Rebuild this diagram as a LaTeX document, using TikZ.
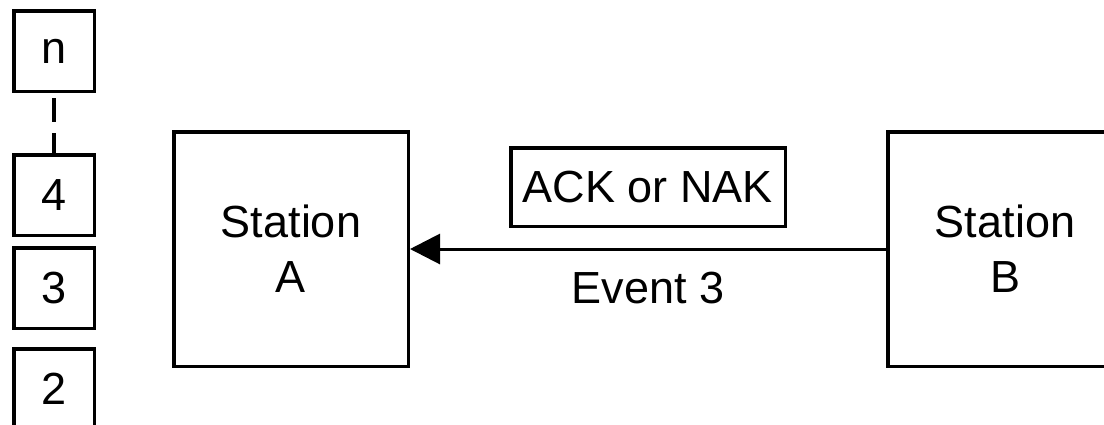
\documentclass[tikz,border=0pt]{standalone}
\usepackage{fontspec}
\setmainfont{Liberation Sans}
\usetikzlibrary{arrows.meta,positioning}
\tikzstyle{frame}=[
	rectangle,
	draw,
	line width=3.5pt,
	font=\fontsize{45}{55}\selectfont
]
\tikzstyle{station}=[
	frame,
	minimum width=234.5pt,
	minimum height=234.5pt,
	align=center
]
\tikzstyle{slot}=[
	frame,
	minimum width=80.5pt,
	minimum height=80.5pt,
	inner sep=0pt,
	node distance=60pt
]
\tikzstyle{gap}=[
	line width=3.5pt,
	dash pattern=on 24pt off 11pt,
	dash phase=30pt
]
\tikzstyle{message}=[
	-{Triangle[length=30pt,width=30pt]},
	line width=3pt
]

\begin{document}
\begin{tikzpicture}[x=1pt,y=-1pt]
\useasboundingbox (0,0) rectangle (1104,424);
\node [slot] (Slotn) at (54,51) {n};
\node [slot] (Slot4)[below=of Slotn] {4};
\node [slot] (Slot3)[below=9pt of Slot4] {3};
\node [slot] (Slot2)[below=17pt of Slot3] {2};
\draw [gap] (Slotn) -- (Slot4);
\node [station] (StationA) at (291,249) {Station\\A};
\node [station] (StationB)[right=476pt of StationA] {Station\\B};
\draw [message] (StationB) -- (StationA)
	node [frame, midway, above=21pt, minimum width=274.5pt, minimum height=78.5pt, inner sep=0pt] (Reply) {ACK or NAK}
	node [midway, below=22pt, inner sep=0pt, font=\fontsize{45}{55}\selectfont] (Event) {Event 3};
\end{tikzpicture}
\end{document}
